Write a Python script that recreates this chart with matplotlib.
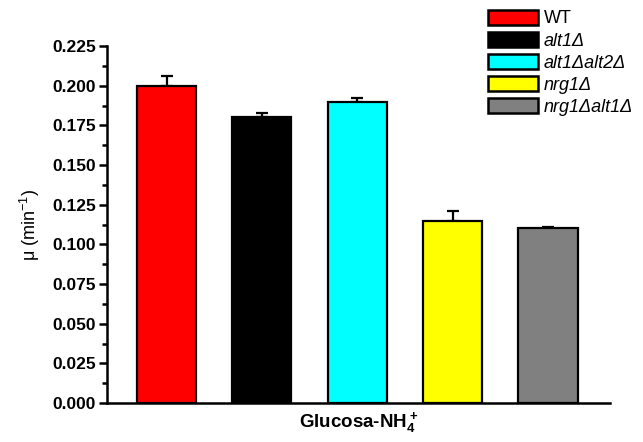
import numpy as np
import matplotlib
matplotlib.use("Agg")
import matplotlib.pyplot as plt
from matplotlib.ticker import MultipleLocator
from matplotlib.patches import Patch

plt.rcParams['font.family'] = ['Liberation Sans', 'DejaVu Sans']
plt.rcParams['mathtext.default'] = 'regular'

# growth rate per strain
strains = ['WT', 'alt1Δ', 'alt1Δalt2Δ', 'nrg1Δ', 'nrg1Δalt1Δ']
mu = [0.200, 0.180, 0.190, 0.115, 0.110]
err = [0.006, 0.003, 0.002, 0.006, 0.001]
colors = ['#ff0000', '#000000', '#00ffff', '#ffff00', '#808080']

fig = plt.figure(figsize=(6.43, 4.42), dpi=100)
ax = fig.add_axes([0.1664, 0.0882, 0.7823, 0.8077])

x = np.arange(1, len(mu) + 1)
ax.bar(x, mu, width=0.62, color=colors, edgecolor='black', linewidth=1.6, zorder=2)
ax.errorbar(x, mu, yerr=[np.zeros(len(err)), err], fmt='none', ecolor='black',
            elinewidth=1.6, capsize=4, capthick=1.6, zorder=1)

ax.set_xlim(0.376, 5.65)
ax.set_ylim(0, 0.225)
ax.yaxis.set_major_locator(MultipleLocator(0.025))
ax.yaxis.set_minor_locator(MultipleLocator(0.0125))
ax.set_xticks([])

for s in ['top', 'right']:
    ax.spines[s].set_visible(False)
for s in ['left', 'bottom']:
    ax.spines[s].set_linewidth(1.8)

ax.tick_params(axis='y', which='major', length=6, width=1.8, direction='out', labelsize=12.5, pad=2)
ax.tick_params(axis='y', which='minor', length=3.5, width=1.8, direction='out')
ax.set_yticks(np.arange(0, 0.2251, 0.025))
ax.set_yticklabels(['%.3f' % v for v in np.arange(0, 0.2251, 0.025)], fontweight='bold')

ax.set_ylabel(r'μ (min$^{-1}$)', fontsize=13, labelpad=7)
ax.set_xlabel(r'Glucosa-NH$_4^+$', fontsize=13.5, fontweight='bold', labelpad=5)

handles = [Patch(facecolor=c, edgecolor='black', linewidth=1.8) for c in colors]
leg = fig.legend(handles, strains, loc='upper left', bbox_to_anchor=(0.759, 0.978),
                 frameon=False, fontsize=13, handlelength=2.75, handleheight=0.9,
                 labelspacing=0.24, handletextpad=0.33, borderpad=0, borderaxespad=0)
for t in leg.get_texts()[1:]:
    t.set_fontstyle('italic')

fig.savefig('out.png', dpi=100)
